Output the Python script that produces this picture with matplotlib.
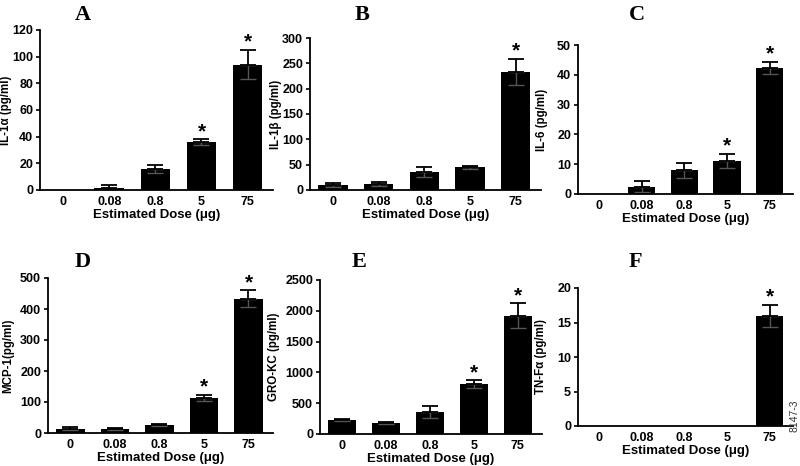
import numpy as np
import matplotlib.pyplot as plt

plt.rcParams['font.family'] = ['Liberation Sans', 'DejaVu Sans']

doses = ["0", "0.08", "0.8", "5", "75"]

# values (mean, error)
il1a = [0, 1.5, 16, 36, 94]
il1a_err = [0, 2.5, 3, 2, 11]
il1b = [10, 12, 35, 45, 233]
il1b_err = [4, 4, 10, 3, 25]
il6 = [0, 2.5, 8, 11, 42.3]
il6_err = [0, 1.7, 2.5, 2.3, 2]
mcp1 = [14, 12, 26, 112, 433]
mcp1_err = [4, 3, 3, 10, 27]
grokc = [230, 185, 360, 810, 1920]
grokc_err = [15, 15, 100, 60, 200]
tnfa = [0, 0, 0, 0, 16]
tnfa_err = [0, 0, 0, 0, 1.6]

stars_a = [3, 4]
stars_b = [4]
stars_c = [3, 4]
stars_d = [3, 4]
stars_e = [3, 4]
stars_f = [4]

# letter, ylabel, values, errors, stars, ymax, step, axes box (px), ylabel x (px), letter pos (px)
panels = [
    ("A", "IL-1α (pg/ml)", il1a, il1a_err, stars_a, 120, 20, [40, 273, 190, 30], 12, (83, 15)),
    ("B", "IL-1β (pg/ml)", il1b, il1b_err, stars_b, 300, 50, [310, 541, 190, 38], 282, (362, 15)),
    ("C", "IL-6 (pg/ml)", il6, il6_err, stars_c, 50, 10, [578, 793, 194, 45], 548, (637, 15)),
    ("D", "MCP-1(pg/ml)", mcp1, mcp1_err, stars_d, 500, 100, [48, 273, 433, 278], 14, (83, 262)),
    ("E", "GRO-KC (pg/ml)", grokc, grokc_err, stars_e, 2500, 500, [320, 542, 434, 280], 280, (359, 262)),
    ("F", "TN-Fα (pg/ml)", tnfa, tnfa_err, stars_f, 20, 5, [578, 793, 426, 288], 547, (635, 262)),
]

W, H = 800, 466
fig = plt.figure(figsize=(8, 4.66), dpi=100)

for letter, ylab, vals, errs, stars, ymax, ystep, box, ylx, lpos in panels:
    x0, x1, yb, yt = box
    ax = fig.add_axes([x0 / W, 1 - yb / H, (x1 - x0) / W, (yb - yt) / H])
    x = np.arange(len(doses))
    ax.bar(x, vals, width=0.64, color='black')
    vals = np.array(vals)
    errs = np.array(errs)
    show = errs > 0
    # lower half of the error bar shows faintly inside the bar
    ax.errorbar(x[show], vals[show], yerr=[errs[show], np.zeros(show.sum())],
                fmt='none', ecolor='#555555', elinewidth=1, capsize=6, capthick=1)
    ax.errorbar(x[show], vals[show], yerr=[np.zeros(show.sum()), errs[show]],
                fmt='none', ecolor='black', elinewidth=1.3, capsize=6, capthick=1.3)
    for i in stars:
        ax.text(x[i], vals[i] + errs[i] - ymax * 0.01, "*", ha='center', va='bottom',
                fontsize=15, fontweight='bold')
    ax.set_xlim(-0.5, 4.55)
    ax.set_ylim(0, ymax)
    ax.set_yticks(np.arange(0, ymax + 1, ystep))
    ax.set_xticks(x)
    ax.set_xticklabels(doses)
    ax.tick_params(axis='x', length=0, pad=4, labelsize=9)
    ax.tick_params(axis='y', length=3, width=1.2, pad=2, labelsize=9)
    for lbl in ax.get_xticklabels() + ax.get_yticklabels():
        lbl.set_fontweight('bold')
    ax.spines['top'].set_visible(False)
    ax.spines['right'].set_visible(False)
    ax.spines['left'].set_linewidth(1.3)
    ax.spines['bottom'].set_linewidth(1.3)
    ax.set_xlabel("Estimated Dose (μg)", fontsize=9.5, fontweight='bold', labelpad=1)
    ax.set_ylabel(ylab, fontsize=8.3, fontweight='bold')
    ax.yaxis.set_label_coords((ylx - x0) / (x1 - x0), 0.5)
    fig.text(lpos[0] / W, 1 - lpos[1] / H, letter, ha='center', va='center',
             fontsize=16, fontweight='bold', family='Liberation Serif')

fig.text(794 / W, 1 - 416 / H, "8147-3", rotation=90, ha='center', va='center',
         fontsize=7.5, color='#333333')

fig.savefig("out.png", dpi=100)
